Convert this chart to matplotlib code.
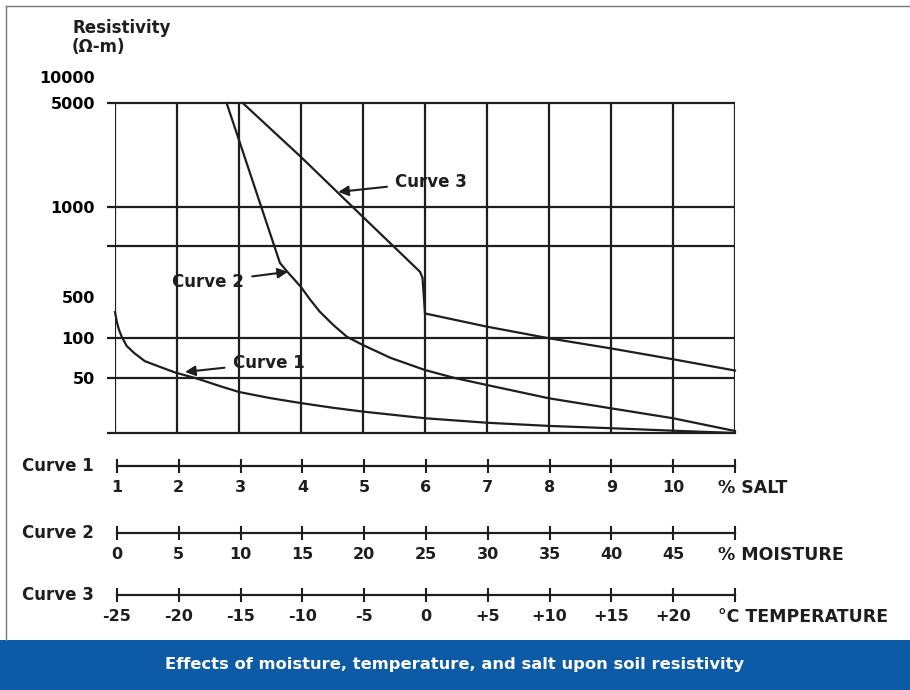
import numpy as np
import matplotlib
matplotlib.use("Agg")
import matplotlib.pyplot as plt
from matplotlib.patches import Rectangle
from matplotlib.lines import Line2D

plt.rcParams['font.family'] = ['DejaVu Sans']

# ---------------- data ----------------
# Curve 1: resistivity vs % salt
curve1_salt = [1.0, 1.03, 1.065, 1.11, 1.19, 1.31, 1.48, 1.73, 1.97, 2.32, 2.69, 3.0,
               3.5, 4.0, 4.5, 5, 6, 7, 8, 9, 10, 11]
curve1_res = [277, 187, 137, 104, 87, 77, 67, 60.5, 55, 49.3, 39.5, 33.2,
              27.8, 24, 21, 18.7, 15.4, 13.5, 12.3, 11.5, 10.7, 10]

# Curve 2: resistivity vs % moisture
curve2_moist = [9.0, 10, 13.3, 13.9, 15, 15.7, 16.5, 17.6, 18.7, 20, 22.2, 25, 27.4,
                30, 35, 40, 45, 50]
curve2_res = [5000, 2818, 650, 607, 540, 462, 283, 167, 105, 88.5, 71, 57.4, 50,
              40.7, 27.6, 20.6, 15.4, 10.6]

# Curve 3: resistivity vs temperature (deg C)
curve3_temp = [-14.7, -10, -5, -0.4, -0.2, 0, 5, 10, 15, 20, 25]
curve3_res = [5000, 2168, 926, 607, 579, 262, 156, 99.5, 83.5, 69.2, 56.9]

# y-axis labels and gridlines (resistivity, ohm-m)
ytick_values = [10000, 5000, 1000, 500, 100, 50]
ytick_labels = ['10000', '5000', '1000', '500', '100', '50']
hgrid_values = [5000, 1000, 740, 100, 50, 10]

# bottom scales
salt_ticks = [1, 2, 3, 4, 5, 6, 7, 8, 9, 10, 11]
salt_labels = ['1', '2', '3', '4', '5', '6', '7', '8', '9', '10', '']
moist_ticks = [0, 5, 10, 15, 20, 25, 30, 35, 40, 45, 50]
moist_labels = ['0', '5', '10', '15', '20', '25', '30', '35', '40', '45', '']
temp_ticks = [-25, -20, -15, -10, -5, 0, 5, 10, 15, 20, 25]
temp_labels = ['-25', '-20', '-15', '-10', '-5', '0', '+5', '+10', '+15', '+20', '']

# ------------- the chart's non-uniform resistivity scale -------------
LOG_ANCHORS = np.array([1.0, np.log10(50), 2.0, np.log10(500), 3.0, np.log10(5000), 4.0])
H_ANCHORS = np.array([0, 55, 95, 136, 226, 330, 356], dtype=float)


def fwd(r):
    r = np.clip(np.asarray(r, dtype=float), 1e-6, None)
    return np.interp(np.log10(r), LOG_ANCHORS, H_ANCHORS)


def inv(h):
    return 10 ** np.interp(np.asarray(h, dtype=float), H_ANCHORS, LOG_ANCHORS)


W_PX, H_PX = 910, 690
fig = plt.figure(figsize=(W_PX / 100, H_PX / 100), dpi=100)
fig.patch.set_facecolor('white')

def fx(px):
    return px / W_PX

def fy(py):
    return 1 - py / H_PX

INK = '#1e1e1e'
L, R = 115, 735
ax = fig.add_axes([fx(L), fy(433), (R - L) / W_PX, (433 - 77) / H_PX])
ax.set_yscale('function', functions=(fwd, inv))
ax.set_xlim(0, 50)
ax.set_ylim(10, 10000)
for s in ax.spines.values():
    s.set_visible(False)
ax.set_xticks([])
ax.set_yticks(ytick_values)
ax.set_yticklabels(ytick_labels)
ax.yaxis.set_minor_locator(matplotlib.ticker.NullLocator())
ax.tick_params(axis='y', length=0, pad=14.4, labelsize=11.5)
for t in ax.get_yticklabels():
    t.set_fontweight('bold')
ax.patch.set_alpha(0)

# grid
ax.hlines(hgrid_values, -0.65, 50, colors=INK, lw=1.6, clip_on=False, zorder=1)
ax.vlines(moist_ticks, 10, 5000, colors=INK, lw=1.6, zorder=1)

# curves (all drawn against the moisture-based x axis)
x1 = [(s - 1) * 5 for s in curve1_salt]
x3 = [t + 25 for t in curve3_temp]
ax.plot(x1, curve1_res, color=INK, lw=1.6, zorder=2, clip_on=False,
        solid_joinstyle='round')
ax.plot(curve2_moist, curve2_res, color=INK, lw=1.6, zorder=2, clip_on=False,
        solid_joinstyle='round')
ax.plot(x3, curve3_res, color=INK, lw=1.6, zorder=2, clip_on=False,
        solid_joinstyle='round')

arrow = dict(arrowstyle='-|>', color=INK, lw=1.5, mutation_scale=15,
             shrinkA=4, shrinkB=0)
ax.annotate('Curve 3', xy=(18.0, 1262), xytext=(22.6, 1472), ha='left', va='center',
            fontsize=12, fontweight='bold', color=INK, arrowprops=arrow)
ax.annotate('Curve 2', xy=(13.95, 607), xytext=(10.4, 561), ha='right', va='center',
            fontsize=12, fontweight='bold', color=INK, arrowprops=arrow)
ax.annotate('Curve 1', xy=(5.65, 55.5), xytext=(9.5, 64.9), ha='left', va='center',
            fontsize=12, fontweight='bold', color=INK, arrowprops=arrow)

# axis title
fig.text(fx(72), fy(28), 'Resistivity', fontsize=12, fontweight='bold', color=INK,
         ha='left', va='center')
fig.text(fx(72), fy(47), '(\u03a9-m)', fontsize=12, fontweight='bold', color=INK,
         ha='left', va='center')

# bottom scales
scales = [
    ('Curve 1', 466, salt_ticks, salt_labels, '% SALT'),
    ('Curve 2', 533, moist_ticks, moist_labels, '% MOISTURE'),
    ('Curve 3', 595, temp_ticks, temp_labels, '\u00b0C TEMPERATURE'),
]
for name, ypx, ticks, labels, unit in scales:
    sax = fig.add_axes([fx(L + 2), fy(ypx), (R - L - 2) / W_PX, 0.0001])
    sax.set_xlim(ticks[0], ticks[-1])
    sax.set_ylim(0, 1)
    sax.patch.set_alpha(0)
    for k in ('top', 'left', 'right'):
        sax.spines[k].set_visible(False)
    sax.spines['bottom'].set_linewidth(1.6)
    sax.spines['bottom'].set_color(INK)
    sax.set_yticks([])
    sax.set_xticks(ticks)
    sax.set_xticklabels(labels)
    sax.tick_params(axis='x', direction='inout', length=10, width=1.5, color=INK,
                    pad=5, labelsize=11.5, labelcolor=INK)
    for t in sax.get_xticklabels():
        t.set_fontweight('bold')
    fig.text(fx(22), fy(ypx), name, fontsize=12, fontweight='bold', color=INK,
             ha='left', va='center')
    fig.text(fx(718), fy(ypx + 22), unit, fontsize=12.5, fontweight='bold', color=INK,
             ha='left', va='center')

# border lines
fig.add_artist(Line2D([fx(6), fx(6)], [fy(6), fy(640)], transform=fig.transFigure,
                      color='#777777', lw=1))
fig.add_artist(Line2D([fx(6), 1], [fy(6), fy(6)], transform=fig.transFigure,
                      color='#777777', lw=1))

# bottom banner
fig.add_artist(Rectangle((0, 0), 1, 50 / H_PX, transform=fig.transFigure,
                         facecolor='#0d5aa7', edgecolor='none'))
fig.text(0.5, 25 / H_PX, 'Effects of moisture, temperature, and salt upon soil resistivity',
         color='white', fontsize=11.8, fontweight='bold', ha='center', va='center')

fig.savefig('out.png', dpi=100)
